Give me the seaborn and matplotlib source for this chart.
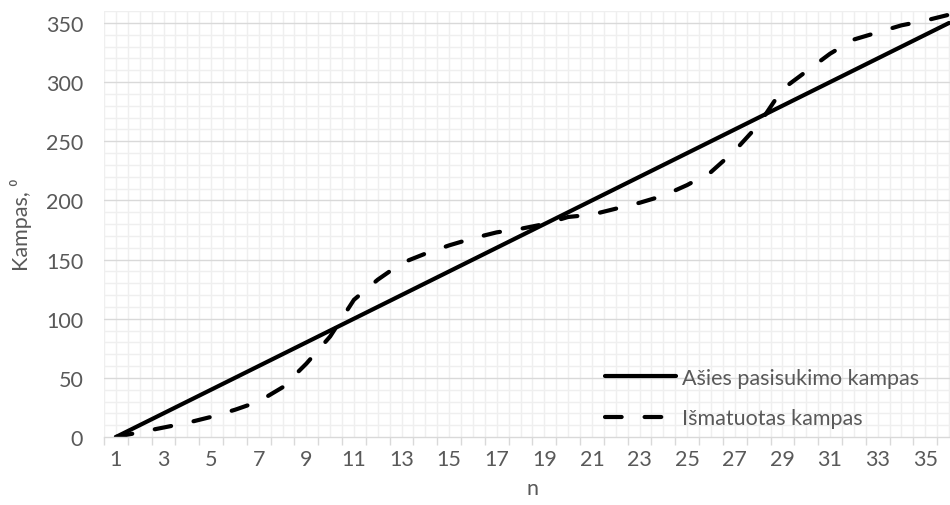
import numpy as np
import pandas as pd
import matplotlib
matplotlib.use("Agg")
import matplotlib.pyplot as plt
import seaborn as sns

# Measurement step index and the two angle series (degrees)
n = list(range(1, 37))
shaft_angle = [0, 10, 20, 30, 40, 50, 60, 70, 80, 90, 100, 110, 120, 130, 140, 150, 160, 170,
               180, 190, 200, 210, 220, 230, 240, 250, 260, 270, 280, 290, 300, 310, 320, 330, 340, 350]
measured_angle = [0, 4, 8, 12, 17, 23, 30, 42, 62, 85, 116, 133, 147, 155, 162, 168, 173, 176,
                  180, 186, 188, 193, 198, 204, 213, 224, 242, 264, 294, 309, 324, 336, 342, 348, 352, 357]

series_names = ["Ašies pasisukimo kampas", "Išmatuotas kampas"]
x_labels = [str(v) for v in range(1, 36, 2)]

df = pd.DataFrame({
    "n": n * 2,
    "kampas": shaft_angle + measured_angle,
    "serija": [series_names[0]] * len(n) + [series_names[1]] * len(n),
})

sns.set_theme(style="white")
plt.rcParams["font.family"] = ["Lato", "DejaVu Sans"]

FS = 15.5
TXT = "#595959"

fig = plt.figure(figsize=(9.5, 5.06), dpi=100)
ax = fig.add_axes([0.1095, 0.1344, 0.902, 0.8416])

sns.lineplot(data=df, x="n", y="kampas", hue="serija", style="serija",
             palette=["black", "black"], dashes={series_names[0]: "", series_names[1]: (4, 5.5)},
             linewidth=3.0, ax=ax, legend=True)
for line in ax.lines:
    line.set_solid_capstyle("round")
    line.set_dash_capstyle("round")

ax.set_xlim(0.5, 36.5)
ax.set_ylim(0, 360)

# Category-style x axis: labels on odd steps, tick marks between categories
ax.set_xticks(range(1, 36, 2))
ax.set_xticklabels(x_labels)
ax.set_xticks(np.arange(0.5, 37, 1.0), minor=True)
ax.set_yticks(range(0, 351, 50))
ax.tick_params(axis="x", which="major", length=0, pad=9, labelsize=FS, colors=TXT)
ax.tick_params(axis="x", which="minor", length=6, width=1, color="#d9d9d9", bottom=True)
ax.tick_params(axis="y", which="major", length=0, pad=15, labelsize=FS, colors=TXT)

# Grid: light minor grid every half step and every 10 degrees, darker every 50 degrees
for xv in np.arange(0.5, 37, 0.5):
    ax.axvline(xv, color="#efefef", lw=1, zorder=0)
for yv in range(10, 361, 10):
    ax.axhline(yv, color="#d9d9d9" if yv % 50 == 0 else "#efefef", lw=1, zorder=0.5 if yv % 50 == 0 else 0)

for side in ["top", "right", "left"]:
    ax.spines[side].set_visible(False)
ax.spines["bottom"].set_color("#d9d9d9")
ax.spines["bottom"].set_linewidth(1)

ax.set_xlabel("n", fontsize=FS, color=TXT, labelpad=6)
ax.set_ylabel("Kampas, ⁰", fontsize=FS, color=TXT, labelpad=10)

handles, labels = ax.get_legend_handles_labels()
leg = ax.legend(handles, labels, loc="lower left", bbox_to_anchor=(0.585, 0.02),
                frameon=False, fontsize=FS, handlelength=3.3, handletextpad=0.25,
                labelspacing=0.95, labelcolor=TXT, borderpad=0, borderaxespad=0)
for h in leg.get_lines():
    h.set_linewidth(3.0)

fig.savefig("out.png", dpi=100)
